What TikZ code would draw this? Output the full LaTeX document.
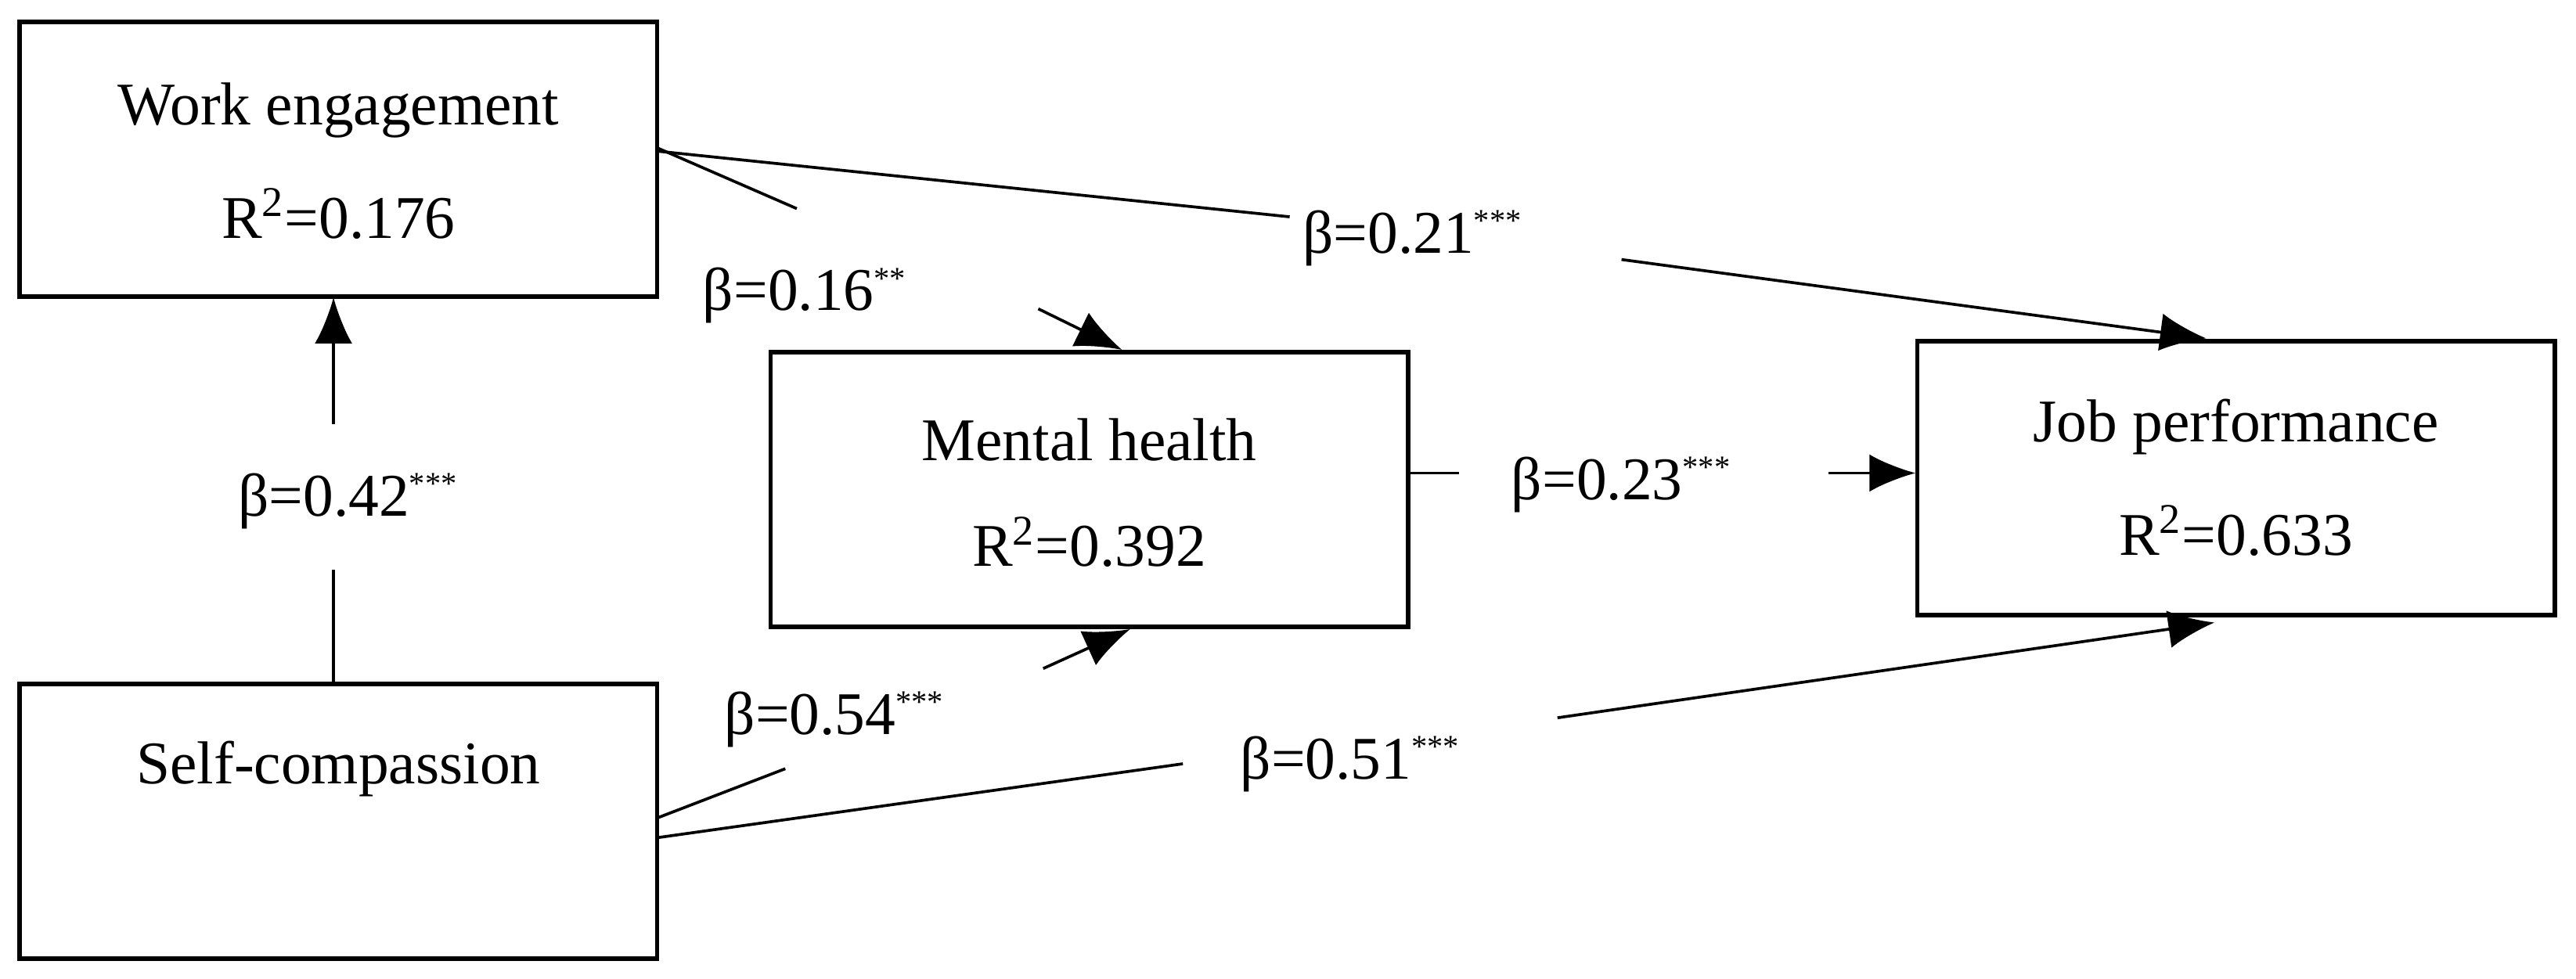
\documentclass[tikz,border=0pt]{standalone}
\usepackage{fontspec}
\setmainfont{Liberation Serif}
\usetikzlibrary{arrows.meta}
\begin{document}
\begin{tikzpicture}[x=0.02cm,y=-0.02cm,
  box/.style={draw,line width=1.6pt,minimum width=7.76cm,minimum height=3.34cm,inner sep=0pt},
  lbl/.style={font=\fontsize{21}{25}\selectfont,inner sep=0pt},
  ln/.style={line width=1pt},
  arr/.style={line width=1pt,-{Latex[length=16pt,width=13pt]}}]
\useasboundingbox (0,0) rectangle (1568,596);
\node[box] (we) at (206,97) {};
\node[box] (sc) at (206,500) {};
\node[box] (mh) at (663,298) {};
\node[box] (jp) at (1361,291) {};
\node[lbl] (wet) at (206,67) {Work engagement};
\node[lbl] (wer) at (206,130) {R\textsuperscript{2}=0.176};
\node[lbl] (sct) at (206,468) {Self-compassion};
\node[lbl] (mht) at (663,268) {Mental health};
\node[lbl] (mhr) at (663,330) {R\textsuperscript{2}=0.392};
\node[lbl] (jpt) at (1361,260) {Job performance};
\node[lbl] (jpr) at (1361,323) {R\textsuperscript{2}=0.633};
\newcommand{\st}[1]{\textsuperscript{\fontsize{11}{12}\selectfont #1}}
\node[lbl] (b16) at (490,180) {β=0.16\st{**}};
\node[lbl] (b21) at (860,145) {β=0.21\st{***}};
\node[lbl] (b42) at (212,305) {β=0.42\st{***}};
\node[lbl] (b23) at (987,295) {β=0.23\st{***}};
\node[lbl] (b54) at (508,438) {β=0.54\st{***}};
\node[lbl] (b51) at (822,465) {β=0.51\st{***}};
\coordinate (a1) at (400,90); \coordinate (a2) at (485,127);
\coordinate (a3) at (632,188); \coordinate (a4) at (683,213);
\draw[ln] (a1) -- (a2); \draw[arr] (a3) -- (a4);
\coordinate (c1) at (400,92); \coordinate (c2) at (785,132);
\coordinate (c3) at (987,158); \coordinate (c4) at (1343,206);
\draw[ln] (c1) -- (c2); \draw[arr] (c3) -- (c4);
\coordinate (d1) at (203,417); \coordinate (d2) at (203,347);
\coordinate (d3) at (203,258); \coordinate (d4) at (203,181);
\draw[ln] (d1) -- (d2); \draw[arr] (d3) -- (d4);
\coordinate (e1) at (857,288); \coordinate (e2) at (888,288);
\coordinate (e3) at (1113,288); \coordinate (e4) at (1166,288);
\draw[ln] (e1) -- (e2); \draw[arr] (e3) -- (e4);
\coordinate (f1) at (400,498); \coordinate (f2) at (478,468);
\coordinate (f3) at (635,407); \coordinate (f4) at (688,383);
\draw[ln] (f1) -- (f2); \draw[arr] (f3) -- (f4);
\coordinate (g1) at (400,510); \coordinate (g2) at (720,465);
\coordinate (g3) at (948,437); \coordinate (g4) at (1348,379);
\draw[ln] (g1) -- (g2); \draw[arr] (g3) -- (g4);
\end{tikzpicture}
\end{document}
